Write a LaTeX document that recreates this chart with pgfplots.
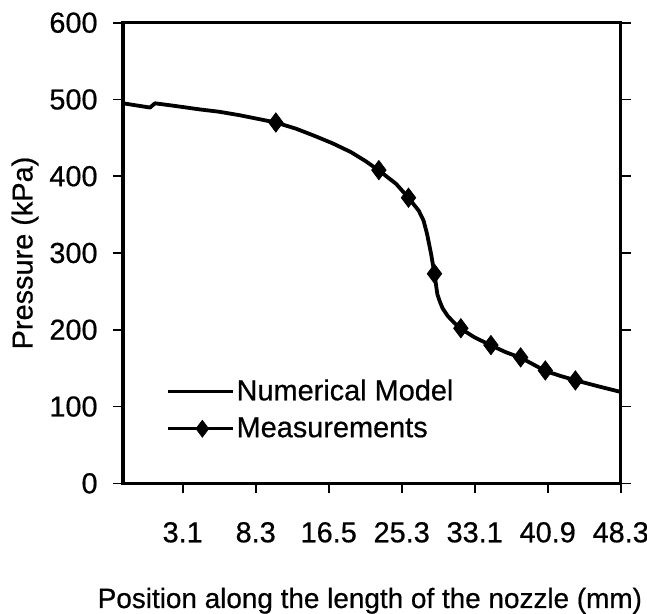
\documentclass[border=0pt]{standalone}
\usepackage{pgfplots}
\pgfplotsset{compat=1.18}
\usepackage{pgfplotstable}
\usepackage{fontspec}
\setmainfont{Liberation Sans}[FakeBold=0.6]
\newcommand{\chartfont}{\fontsize{14.5}{17.5}\selectfont}
\pgfplotstableread{
x y
0.182 495
0.45 491
0.552 489.5
0.62 495
0.90 491.5
1.237 487
1.50 484
1.779 479.5
2.276 470
2.55 462
2.795 453
3.05 443
3.303 431.5
3.50 420
3.687 407.6
3.924 390
4.093 371.9
4.234 355
4.30 342
4.347 325
4.404 298
4.449 272.6
4.488 246.5
4.517 238
4.56 228
4.63 218
4.72 209
4.810 201.3
5.00 190
5.222 179.7
5.42 171
5.629 163.6
5.80 155
5.967 146.3
6.17 140
6.379 134.2
6.69 126.4
7.0 119
}\model
\pgfplotstableread{
x y
2.276 470
3.687 408
4.093 372
4.449 273
4.810 202
5.222 180
5.629 164
5.967 147
6.379 134
}\meas
\begin{document}
\begin{tikzpicture}
\begin{axis}[
  at={(0,0)}, anchor=south west,
  scale only axis, width=248.85bp, height=230.3bp,
  xmin=0.182, xmax=7, ymin=0, ymax=600,
  xtick={1,...,7}, xticklabels={3.1,8.3,16.5,25.3,33.1,40.9,48.3},
  ytick={0,100,...,600},
  tick align=outside, xtick pos=lower, ytick pos=both, yticklabel pos=left,
  major tick length=5bp,
  axis line style={line width=1.7bp},
  every tick/.style={black, line width=0.8bp},
  /pgf/number format/assume math mode=true,
  tick label style={font=\chartfont},
  yticklabel style={anchor=east, inner sep=0pt, xshift=-7.5bp},
  xticklabel style={anchor=north, inner sep=0pt, yshift=-14.2bp},
  xlabel={Position along the length of the nozzle (mm)},
  ylabel={Pressure (kPa)},
  label style={font=\chartfont},
  xlabel style={at={(axis description cs:0.496,-0.2707)}, anchor=base, inner sep=0pt,
    font=\fontsize{14}{17}\selectfont},
  ylabel style={at={(axis description cs:-0.1969,0.5)}, anchor=center, inner sep=0pt},
  legend style={draw=none, fill=none, at={(axis cs:0.78,138.5)}, anchor=north west,
    font=\chartfont, inner sep=0pt, row sep=5bp,
    nodes={inner sep=1bp}},
  legend cell align=left,
]
\addplot[black, line width=1.9bp, line join=round,
  legend image code/.code={\draw[black, line width=1.3bp] (0bp,0bp) -- (32.5bp,0bp);}]
  table[x=x,y=y] {\model};
\addlegendentry{Numerical Model}
\addplot[only marks, mark=diamond*, mark size=4.8bp, black,
  legend image code/.code={\draw[black, line width=1.3bp] (0bp,0bp) -- (32.5bp,0bp);
    \path[black, mark=diamond*, mark size=4.2bp] plot coordinates {(17bp,0bp)};}]
  table[x=x,y=y] {\meas};
\addlegendentry{Measurements}
\end{axis}
\pgfresetboundingbox
\path[use as bounding box] (-61.5bp,-65.35bp) rectangle (262bp,241.65bp);
\end{tikzpicture}
\end{document}
